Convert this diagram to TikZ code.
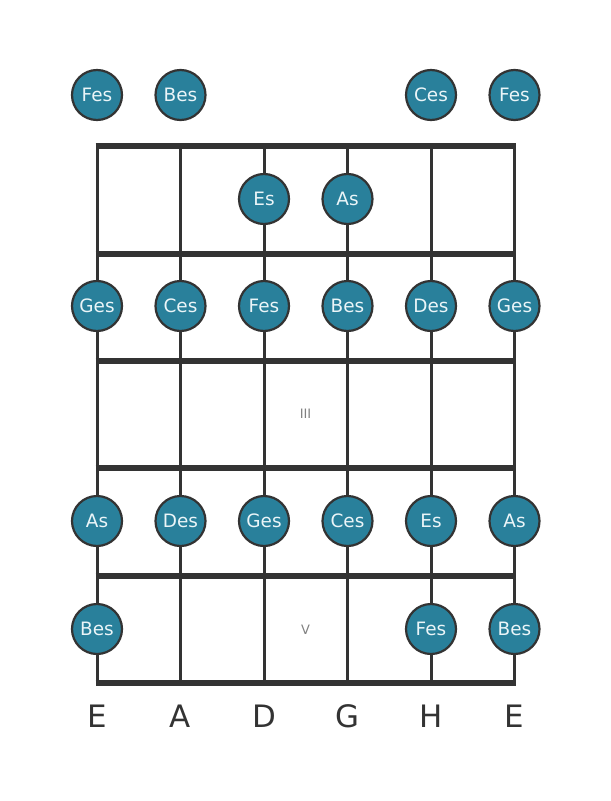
\documentclass[tikz,border=0pt]{standalone}
\usepackage{fontspec}
\setmainfont{DejaVu Sans}
\definecolor{notefill}{RGB}{41,128,155}
\definecolor{ink}{RGB}{51,51,51}
\definecolor{notetext}{RGB}{235,245,248}
\begin{document}
\begin{tikzpicture}[x=1bp,y=-1bp,
  note/.style={circle,draw=ink,line width=2.2bp,fill=notefill,minimum size=50bp,inner sep=0pt,text=notetext,font=\fontsize{18.5}{18.5}\selectfont},
  stringline/.style={draw=ink,line width=3bp},
  fretline/.style={draw=ink,line width=6bp},
  strlabel/.style={text=ink,font=\fontsize{31}{31}\selectfont},
  fretnum/.style={text=gray,font=\fontsize{13}{13}\selectfont}]
\useasboundingbox (0,0) rectangle (611,801);
% string coordinates
\foreach \i/\x in {1/97,2/180.5,3/264,4/347.5,5/431,6/514.5}{
  \coordinate (s\i t) at (\x,146);
  \coordinate (s\i b) at (\x,683);
}
\foreach \i in {1,...,6}{ \draw[stringline] (s\i t) -- (s\i b); }
\foreach \j/\y in {0/146,1/253.5,2/361,3/468,4/575.5,5/683}{
  \coordinate (f\j l) at (95.5,\y);
  \coordinate (f\j r) at (516,\y);
  \draw[fretline] (f\j l) -- (f\j r);
}
\node[fretnum] (p3) at (305.5,414) {III};
\node[fretnum] (p5) at (305.5,630) {V};
% open
\node[note] (o1) at (97,95) {Fes};
\node[note] (o2) at (180.5,95) {Bes};
\node[note] (o5) at (431,95) {Ces};
\node[note] (o6) at (514.5,95) {Fes};
% fret 1
\node[note] (a3) at (264,199) {Es};
\node[note] (a4) at (347.5,199) {As};
% fret 2
\node[note] (b1) at (97,306) {Ges};
\node[note] (b2) at (180.5,306) {Ces};
\node[note] (b3) at (264,306) {Fes};
\node[note] (b4) at (347.5,306) {Bes};
\node[note] (b5) at (431,306) {Des};
\node[note] (b6) at (514.5,306) {Ges};
% fret 4
\node[note] (d1) at (97,521) {As};
\node[note] (d2) at (180.5,521) {Des};
\node[note] (d3) at (264,521) {Ges};
\node[note] (d4) at (347.5,521) {Ces};
\node[note] (d5) at (431,521) {Es};
\node[note] (d6) at (514.5,521) {As};
% fret 5
\node[note] (e1) at (97,629) {Bes};
\node[note] (e5) at (431,629) {Fes};
\node[note] (e6) at (514.5,629) {Bes};
% labels
\foreach \i/\x/\t in {1/97/E,2/180.5/A,3/264/D,4/347.5/G,5/431/H,6/514.5/E}{
  \node[strlabel] (l\i) at (\x,716) {\t};
}
\end{tikzpicture}
\end{document}
